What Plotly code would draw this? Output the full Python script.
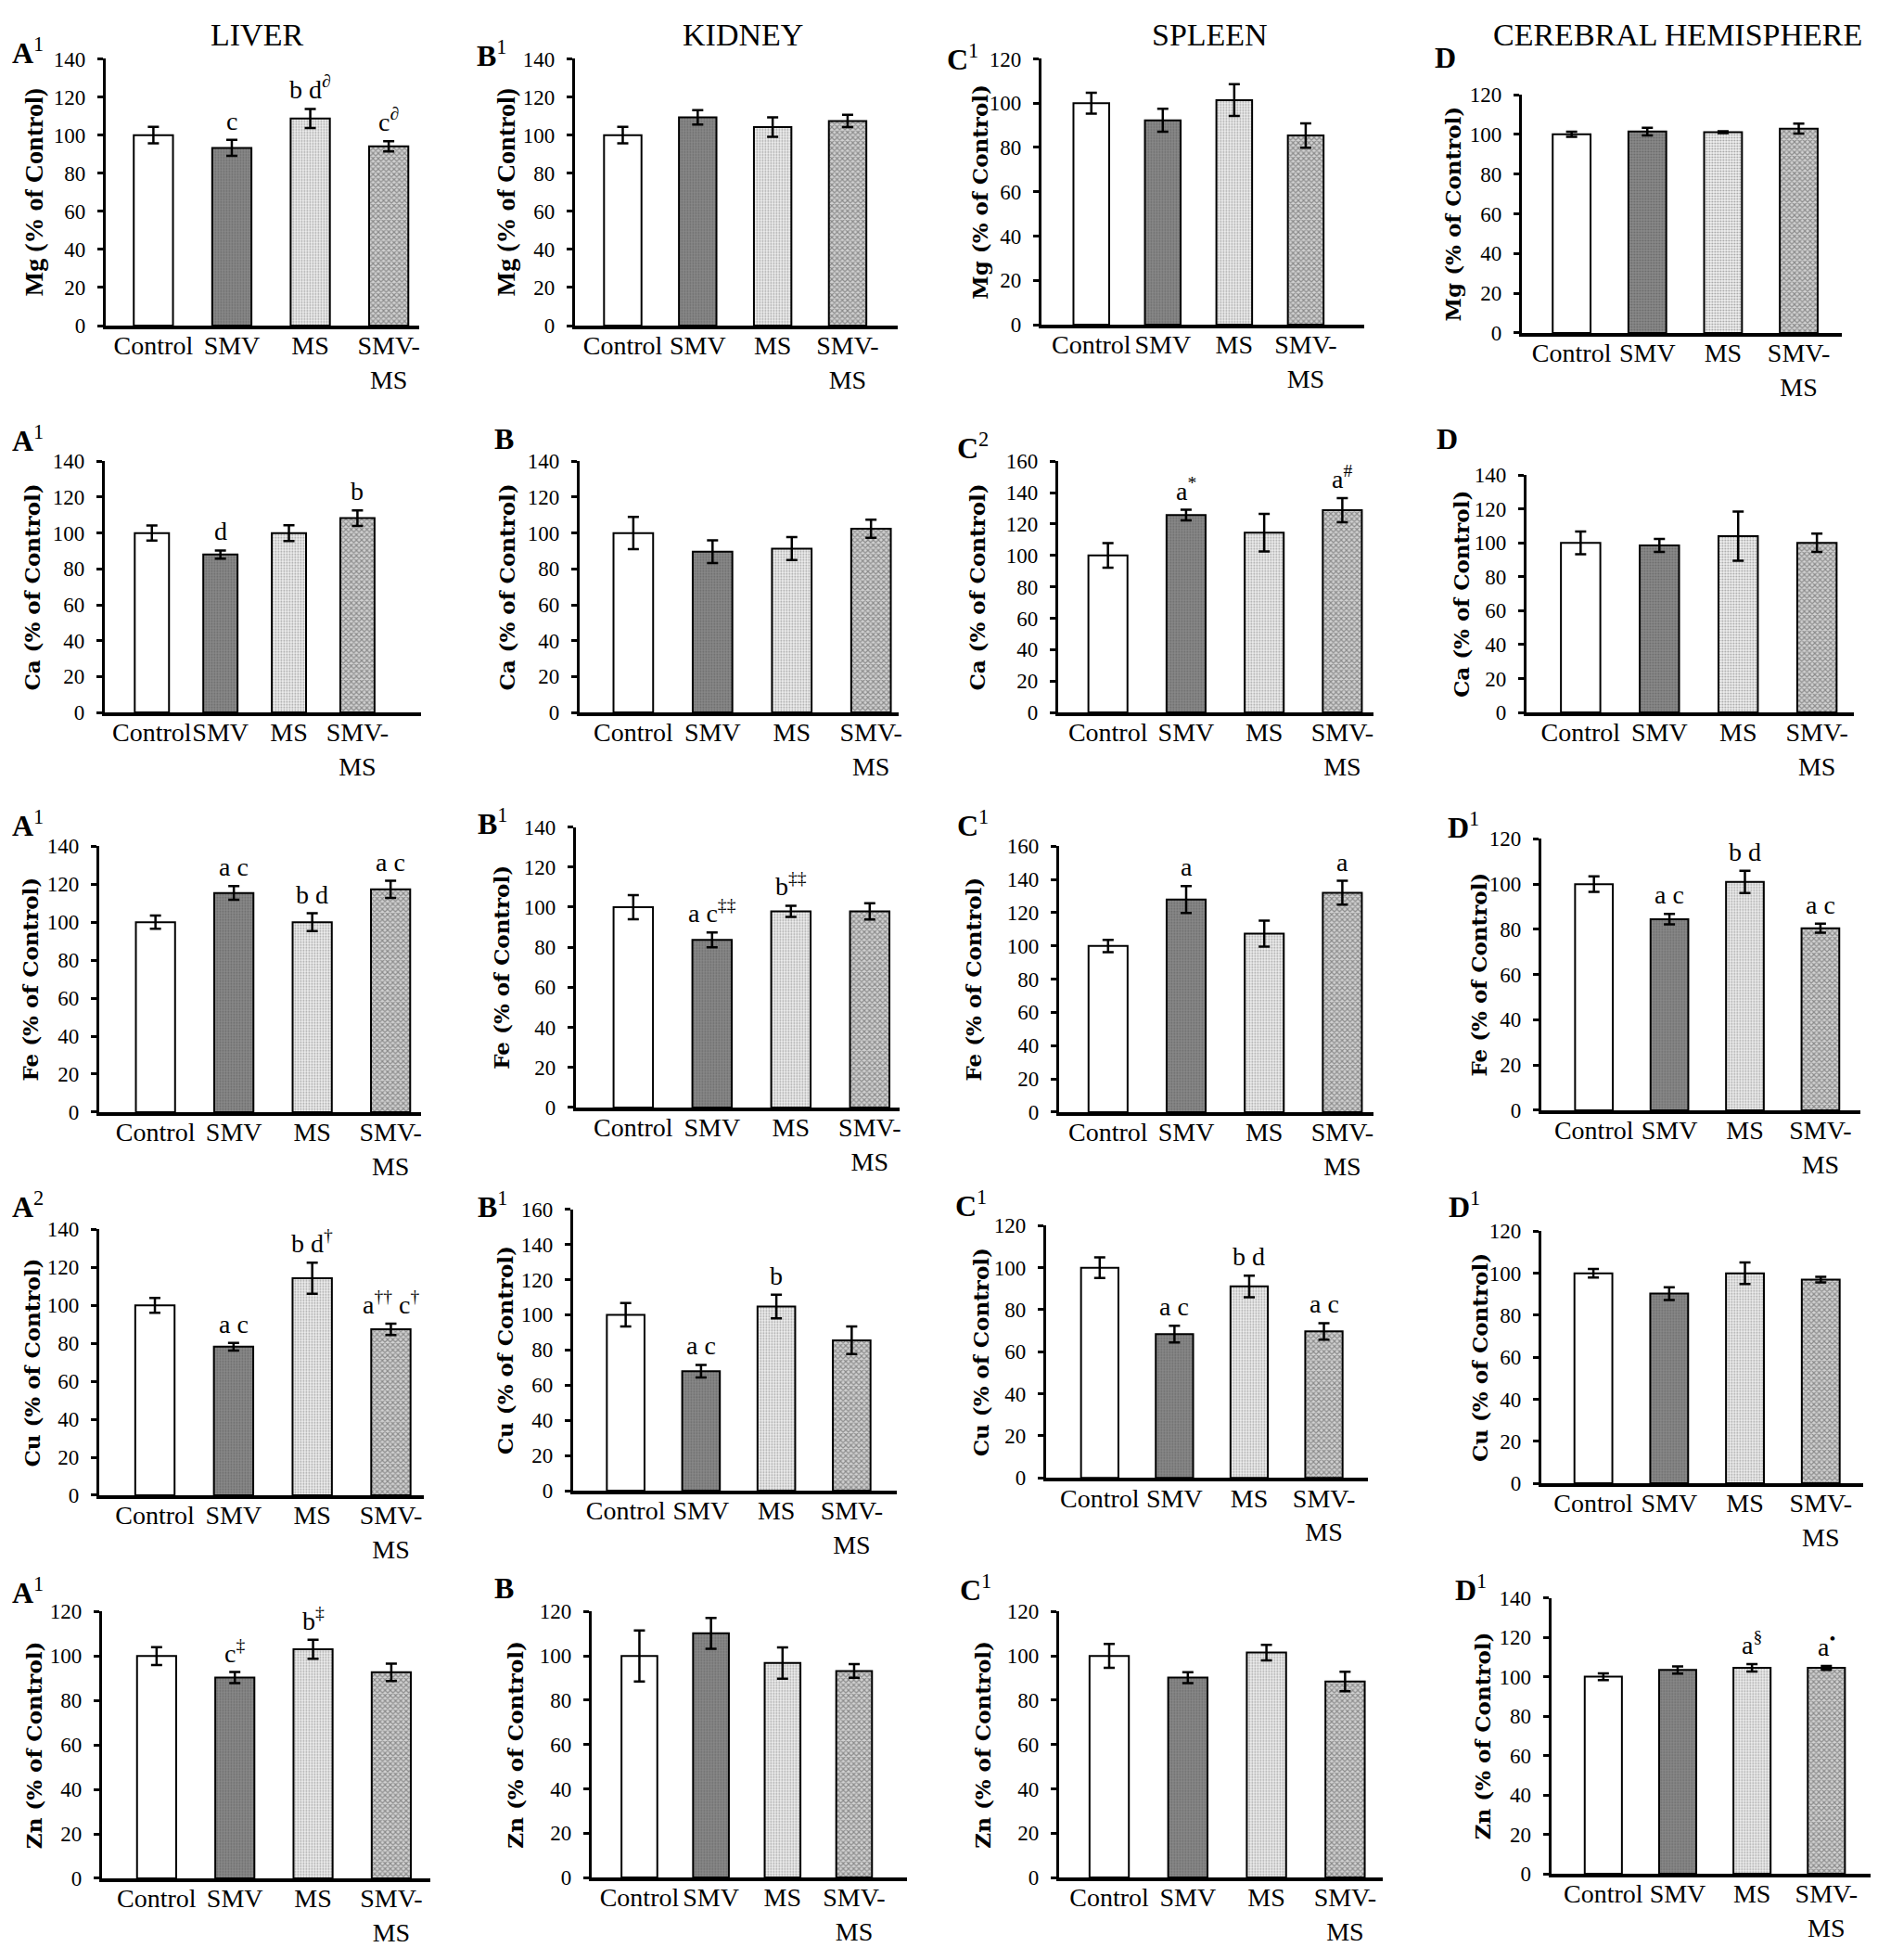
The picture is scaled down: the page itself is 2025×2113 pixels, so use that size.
import plotly.graph_objects as go

# ---------------- data ----------------
categories = ["Control", "SMV", "MS", "SMV-MS"]
tick_text = ["Control", "SMV", "MS", "SMV-<br>MS"]
organs = ["LIVER", "KIDNEY", "SPLEEN", "CEREBRAL HEMISPHERE"]
elements = ["Mg", "Ca", "Fe", "Cu", "Zn"]

mg_liver = [100, 93.3, 108.7, 94.1]
mg_liver_sem = [4.3, 4.2, 5.0, 2.7]
mg_liver_sig = ["", "c", "b d<sup>∂</sup>", "c<sup>∂</sup>"]
mg_kidney = [100, 109.3, 104.2, 107.4]
mg_kidney_sem = [4.3, 3.8, 5.1, 3.2]
mg_kidney_sig = ["", "", "", ""]
mg_spleen = [100, 92.3, 101.4, 85.4]
mg_spleen_sem = [4.7, 5.2, 7.2, 5.5]
mg_spleen_sig = ["", "", "", ""]
mg_brain = [100, 101.4, 101.1, 102.9]
mg_brain_sem = [1.3, 1.9, 0.5, 2.5]
mg_brain_sig = ["", "", "", ""]

ca_liver = [100, 88.0, 100, 108.3]
ca_liver_sem = [4.2, 2.3, 4.4, 4.3]
ca_liver_sig = ["", "d", "", "b"]
ca_kidney = [100, 89.6, 91.3, 102.4]
ca_kidney_sem = [9.0, 6.3, 6.4, 5.1]
ca_kidney_sig = ["", "", "", ""]
ca_spleen = [100, 125.7, 114.5, 128.9]
ca_spleen_sem = [7.8, 3.4, 12.0, 7.7]
ca_spleen_sig = ["", "a<sup>*</sup>", "", "a<sup>#</sup>"]
ca_brain = [100, 98.5, 104.0, 100]
ca_brain_sem = [6.7, 3.8, 14.5, 5.4]
ca_brain_sig = ["", "", "", ""]

fe_liver = [100, 115.4, 100, 117.3]
fe_liver_sem = [3.5, 3.6, 4.7, 4.5]
fe_liver_sig = ["", "a c", "b d", "a c"]
fe_kidney = [100, 83.7, 97.9, 97.9]
fe_kidney_sem = [6.0, 3.7, 2.8, 4.1]
fe_kidney_sig = ["", "a c<sup>‡‡</sup>", "b<sup>‡‡</sup>", ""]
fe_spleen = [100, 128.0, 107.4, 132.0]
fe_spleen_sem = [3.7, 8.1, 7.8, 7.2]
fe_spleen_sig = ["", "a", "", "a"]
fe_brain = [100, 84.5, 101.0, 80.5]
fe_brain_sem = [3.4, 2.3, 4.9, 2.0]
fe_brain_sig = ["", "a c", "b d", "a c"]

cu_liver = [100, 78.2, 114.3, 87.4]
cu_liver_sem = [3.9, 2.0, 8.2, 3.0]
cu_liver_sig = ["", "a c", "b d<sup>†</sup>", "a<sup>††</sup> c<sup>†</sup>"]
cu_kidney = [100, 67.9, 104.7, 85.5]
cu_kidney_sem = [6.7, 3.6, 6.7, 7.8]
cu_kidney_sig = ["", "a c", "b", ""]
cu_spleen = [100, 68.4, 91.1, 69.7]
cu_spleen_sem = [4.9, 4.0, 5.1, 3.9]
cu_spleen_sig = ["", "a c", "b d", "a c"]
cu_brain = [100, 90.3, 100, 97.0]
cu_brain_sem = [2.0, 3.0, 5.1, 1.3]
cu_brain_sig = ["", "", "", ""]

zn_liver = [100, 90.3, 103.1, 92.7]
zn_liver_sem = [4.0, 2.5, 4.3, 3.9]
zn_liver_sig = ["", "c<sup>‡</sup>", "b<sup>‡</sup>", ""]
zn_kidney = [100, 110.2, 96.8, 93.2]
zn_kidney_sem = [11.5, 7.0, 7.1, 3.1]
zn_kidney_sig = ["", "", "", ""]
zn_spleen = [100, 90.2, 101.5, 88.5]
zn_spleen_sem = [5.4, 2.5, 3.5, 4.4]
zn_spleen_sig = ["", "", "", ""]
zn_brain = [100, 103.4, 104.5, 104.5]
zn_brain_sem = [1.7, 1.8, 1.9, 1.0]
zn_brain_sig = ["", "", "a<sup>§</sup>", "a<sup>•</sup>"]

panel_labels = [
    ["A<sup>1</sup>", "B<sup>1</sup>", "C<sup>1</sup>", "D"],
    ["A<sup>1</sup>", "B", "C<sup>2</sup>", "D"],
    ["A<sup>1</sup>", "B<sup>1</sup>", "C<sup>1</sup>", "D<sup>1</sup>"],
    ["A<sup>2</sup>", "B<sup>1</sup>", "C<sup>1</sup>", "D<sup>1</sup>"],
    ["A<sup>1</sup>", "B", "C<sup>1</sup>", "D<sup>1</sup>"],
]
y_max = [
    [140, 140, 120, 120],
    [140, 140, 160, 140],
    [140, 140, 160, 120],
    [140, 160, 120, 120],
    [120, 120, 120, 140],
]

data = [
    [(mg_liver, mg_liver_sem, mg_liver_sig), (mg_kidney, mg_kidney_sem, mg_kidney_sig),
     (mg_spleen, mg_spleen_sem, mg_spleen_sig), (mg_brain, mg_brain_sem, mg_brain_sig)],
    [(ca_liver, ca_liver_sem, ca_liver_sig), (ca_kidney, ca_kidney_sem, ca_kidney_sig),
     (ca_spleen, ca_spleen_sem, ca_spleen_sig), (ca_brain, ca_brain_sem, ca_brain_sig)],
    [(fe_liver, fe_liver_sem, fe_liver_sig), (fe_kidney, fe_kidney_sem, fe_kidney_sig),
     (fe_spleen, fe_spleen_sem, fe_spleen_sig), (fe_brain, fe_brain_sem, fe_brain_sig)],
    [(cu_liver, cu_liver_sem, cu_liver_sig), (cu_kidney, cu_kidney_sem, cu_kidney_sig),
     (cu_spleen, cu_spleen_sem, cu_spleen_sig), (cu_brain, cu_brain_sem, cu_brain_sig)],
    [(zn_liver, zn_liver_sem, zn_liver_sig), (zn_kidney, zn_kidney_sem, zn_kidney_sig),
     (zn_spleen, zn_spleen_sem, zn_spleen_sig), (zn_brain, zn_brain_sem, zn_brain_sig)],
]

# ---------------- layout geometry (pixels) ----------------
W, H = 2025, 2113
# axis_x, right, top, zero, xlo, xhi
geom = [
    [(106, 445, 44, 335, -0.61, 3.39), (613, 962, 44, 335, -0.64, 3.67),
     (1117, 1466, 44, 334, -0.70, 3.82), (1636, 1982, 83, 343, -0.66, 3.57)],
    [(105, 447, 483, 757, -0.69, 3.93), (618, 963, 483, 757, -0.68, 3.35),
     (1135, 1476, 483, 757, -0.64, 3.40), (1641, 1995, 498, 757, -0.69, 3.47)],
    [(99, 447, 903, 1193, -0.72, 3.39), (614, 964, 882, 1188, -0.73, 3.38),
     (1136, 1476, 903, 1193, -0.63, 3.40), (1657, 2002, 895, 1191, -0.70, 3.53)],
    [(99, 450, 1321, 1611, -0.71, 3.42), (611, 961, 1299, 1606, -0.70, 3.60),
     (1122, 1470, 1317, 1592, -0.72, 3.59), (1657, 2005, 1323, 1598, -0.69, 3.56)],
    [(102, 457, 1738, 2029, -0.70, 3.50), (631, 972, 1738, 2028, -0.67, 3.74),
     (1136, 1486, 1738, 2028, -0.64, 3.48), (1668, 2015, 1723, 2024, -0.70, 3.62)],
]
label_pos = [
    [(22, 35), (524, 38), (1032, 42), (1554, 43)],
    [(22, 458), (537, 458), (1043, 467), (1556, 458)],
    [(22, 878), (525, 876), (1043, 878), (1573, 880)],
    [(22, 1294), (525, 1294), (1041, 1293), (1574, 1294)],
    [(22, 1715), (537, 1712), (1046, 1712), (1581, 1712)],
]
ytitle_x = [
    [28, 538, 1051, 1562],
    [27, 540, 1048, 1570],
    [25, 534, 1044, 1590],
    [27, 537, 1051, 1590],
    [28, 549, 1054, 1593],
]
organ_title_x = [270, 795, 1299, 1805]

fill_colors = ["#ffffff", "#8a8a8a", "#f2f2f2", "#d2d2d2"]
pat_shapes = ["", ".", ".", "x"]
pat_fg = ["#000000", "#6a6a6a", "#bdbdbd", "#6c6c6c"]
pat_size = [4, 3, 3, 4]
pat_sol = [0.3, 0.3, 0.3, 0.5]

SERIF = "Liberation Serif"
fig = go.Figure()
annotations = []
layout = dict(width=W, height=H, margin=dict(l=0, r=0, t=0, b=0),
              plot_bgcolor="white", paper_bgcolor="white", showlegend=False)

idx = 0
for r in range(5):
    for c in range(4):
        idx += 1
        ax_x, ax_r, top, zero, xlo, xhi = geom[r][c]
        vals, sem, sig = data[r][c]
        xa = "x" if idx == 1 else f"x{idx}"
        ya = "y" if idx == 1 else f"y{idx}"
        fig.add_trace(go.Bar(
            x=categories, y=vals, xaxis=xa, yaxis=ya, width=0.5,
            marker=dict(color=fill_colors,
                        line=dict(color="black", width=2),
                        pattern=dict(shape=pat_shapes, fgcolor=pat_fg,
                                     bgcolor=fill_colors, size=pat_size,
                                     solidity=pat_sol)),
            error_y=dict(type="data", array=sem, visible=True,
                         color="black", thickness=2.5, width=6),
            hoverinfo="skip"))
        key = "" if idx == 1 else str(idx)
        old_style = (r == 0 and c < 2)
        layout["xaxis" + key] = dict(
            domain=[ax_x / W, ax_r / W], anchor=ya, type="category",
            categoryorder="array", categoryarray=categories,
            range=[xlo, xhi], tickvals=categories, ticktext=tick_text,
            ticks="", tickangle=0, showline=True, linecolor="black", linewidth=3.5,
            showgrid=False, zeroline=False, ticklabelstandoff=-6,
            tickfont=dict(family=SERIF, size=28, color="black"))
        layout["yaxis" + key] = dict(
            domain=[1 - zero / H, 1 - top / H], anchor=xa,
            range=[0, y_max[r][c]], dtick=20, tick0=0,
            ticks="outside", ticklen=6, tickwidth=2.5, tickcolor="black",
            showline=True, linecolor="black", linewidth=3,
            showgrid=False, zeroline=False, ticklabelstandoff=8,
            tickfont=dict(family=SERIF, size=23, color="black"))
        # significance letters
        for i, s in enumerate(sig):
            if s:
                annotations.append(dict(
                    x=categories[i], y=vals[i] + sem[i], xref=xa, yref=ya,
                    text=s, showarrow=False, yanchor="bottom", yshift=3,
                    font=dict(family=SERIF, size=28, color="black")))
        # y-axis title
        ymid = 1 - (top + zero) / 2 / H
        ytxt = f"{elements[r]} (% of Control)"
        if old_style:
            yfont = dict(family=SERIF, size=28, color="black")
        else:
            yfont = dict(family="DejaVu Serif", size=23, color="black")
        annotations.append(dict(
            x=ytitle_x[r][c] / W, y=ymid, xref="paper", yref="paper",
            text=f"<b>{ytxt}</b>", textangle=-90, showarrow=False,
            xanchor="center", yanchor="middle", font=yfont))
        # panel label
        lx, ly = label_pos[r][c]
        lab = panel_labels[r][c]
        if "<sup>" in lab:
            main, sup = lab.split("<sup>")
            lab_txt = f"<b>{main}</b><sup>{sup}"
        else:
            lab_txt = f"<b>{lab}</b>"
        annotations.append(dict(
            x=lx / W, y=1 - ly / H, xref="paper", yref="paper",
            text=lab_txt, showarrow=False, xanchor="center", yanchor="middle",
            font=dict(family=SERIF, size=32, color="black")))

for c, name in enumerate(organs):
    annotations.append(dict(
        x=organ_title_x[c] / W, y=1 - 18 / H, xref="paper", yref="paper",
        text=name, showarrow=False, xanchor="center", yanchor="middle",
        font=dict(family=SERIF, size=34, color="black")))

layout["annotations"] = annotations
fig.update_layout(**layout)
fig.write_html("out.html")
